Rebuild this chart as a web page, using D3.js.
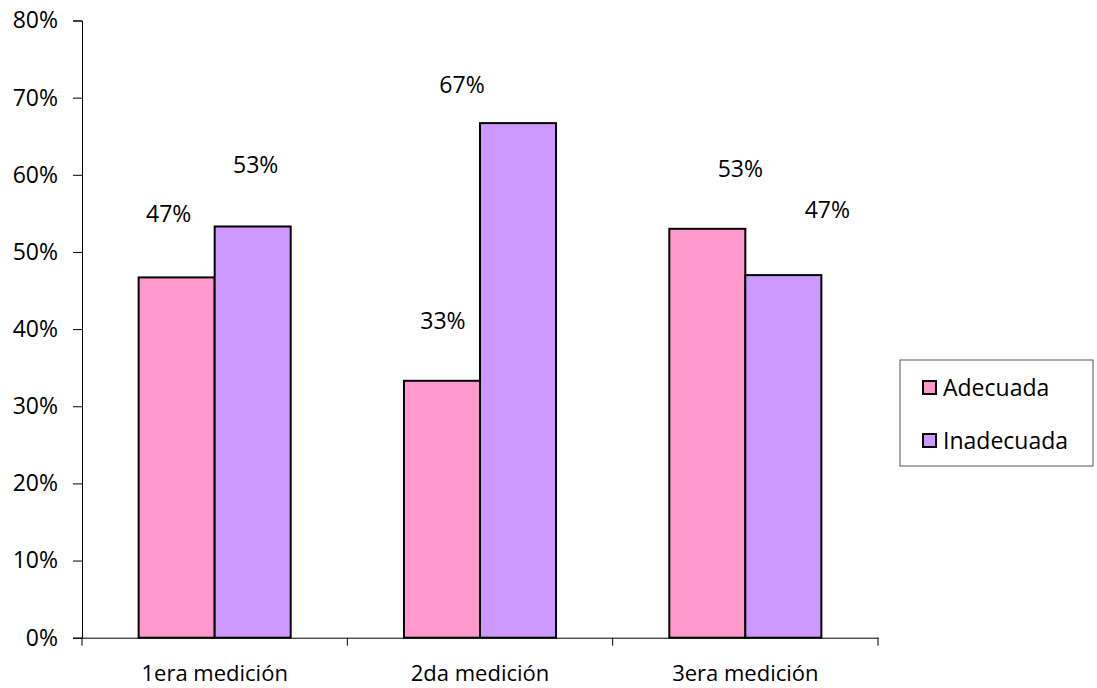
<!DOCTYPE html>
<html>
<head>
<meta charset="utf-8">
<script src="https://cdn.jsdelivr.net/npm/d3@7"></script>
<style>
  body { margin: 0; background: #fff; }
  text { font-family: "Open Sans", sans-serif; fill: #000; }
</style>
</head>
<body>
<script>
var categories = ["1era medición", "2da medición", "3era medición"];
var seriesNames = ["Adecuada", "Inadecuada"];
var adecuada = [0.467, 0.333, 0.53];
var inadecuada = [0.533, 0.667, 0.47];
var valueLabels = [["47%", "53%"], ["33%", "67%"], ["53%", "47%"]];
var yTicks = [0, 0.1, 0.2, 0.3, 0.4, 0.5, 0.6, 0.7, 0.8];

// label nudges (the labels were dragged by hand in the original)
var labelShift = [[[-8, -55], [3, -53]], [[1, -52], [-56, -30]], [[33, -52], [44, -57]]];

const colors = ["#ff99cc", "#cc99ff"];

var width = 1097,
    height = 688;

const margin = {top: 20.5, right: 219, bottom: 50, left: 82};

var fontSize = "23px";

var svg = d3.select("body")
    .append("svg")
    .attr("width", width)
    .attr("height", height);

var x0 = d3.scaleBand()
    .domain(categories)
    .range([margin.left, width - margin.right])
    .paddingInner(0)
    .paddingOuter(0);

var x1 = d3.scaleBand()
    .domain(seriesNames)
    .range([0, x0.bandwidth()])
    .paddingInner(0)
    .paddingOuter(0.745);

var y = d3.scaleLinear()
    .domain([0, 0.8])
    .range([637.7, margin.top]);

// y axis
var yAxis = svg.append("g")
    .attr("transform", "translate(" + margin.left + ",0)")
    .call(d3.axisLeft(y).tickValues(yTicks).tickFormat(d3.format(".0%")).tickSize(9).tickPadding(15));
yAxis.select(".domain").attr("stroke", "#000");
yAxis.selectAll(".tick line").attr("stroke", "#000");
yAxis.selectAll(".tick text")
    .attr("font-size", fontSize)
    .attr("font-family", "Open Sans")
    .attr("fill", "#000");

// bars
var data = categories.map(function (c, i) {
    return {cat: c, vals: [adecuada[i], inadecuada[i]], i: i};
});

var groups = svg.selectAll(".grp")
    .data(data)
    .enter().append("g")
    .attr("class", "grp")
    .attr("transform", function (d) { return "translate(" + x0(d.cat) + ",0)"; });

groups.selectAll("rect")
    .data(function (d) { return d.vals.map(function (v, j) { return {v: v, s: seriesNames[j], j: j}; }); })
    .enter().append("rect")
    .attr("x", function (d) { return x1(d.s); })
    .attr("y", function (d) { return y(d.v); })
    .attr("width", x1.bandwidth())
    .attr("height", function (d) { return y(0) - y(d.v); })
    .attr("fill", function (d) { return colors[d.j]; })
    .attr("stroke", "#000")
    .attr("stroke-width", 2);

groups.selectAll(".lbl")
    .data(function (d) { return d.vals.map(function (v, j) { return {v: v, s: seriesNames[j], j: j, i: d.i}; }); })
    .enter().append("text")
    .attr("class", "lbl")
    .attr("x", function (d) { return x1(d.s) + x1.bandwidth() / 2 + labelShift[d.i][d.j][0]; })
    .attr("y", function (d) { return y(d.v) + labelShift[d.i][d.j][1]; })
    .attr("text-anchor", "middle")
    .attr("font-size", fontSize)
    .text(function (d) { return valueLabels[d.i][d.j]; });

// x axis
var xAxis = svg.append("g")
    .attr("transform", "translate(0," + y(0) + ")")
    .call(d3.axisBottom(x0).tickSize(0).tickPadding(28).tickSizeOuter(0));
xAxis.select(".domain").attr("stroke", "#000");
xAxis.selectAll(".tick text")
    .attr("font-size", "22px")
    .attr("font-family", "Open Sans")
    .attr("fill", "#000");

var edges = categories.map(function (c) { return x0(c); }).concat([width - margin.right]);
xAxis.selectAll(".sep")
    .data(edges)
    .enter().append("line")
    .attr("class", "sep")
    .attr("x1", function (d) { return d; })
    .attr("x2", function (d) { return d; })
    .attr("y1", 0)
    .attr("y2", 8)
    .attr("stroke", "#000");

// legend
var legend = svg.append("g")
    .attr("transform", "translate(900,360)");

legend.append("rect")
    .attr("x", 0)
    .attr("y", 0)
    .attr("width", 193)
    .attr("height", 106)
    .attr("fill", "#fff")
    .attr("stroke", "#555");

seriesNames.forEach(function (name, j) {
    legend.append("rect")
        .attr("x", 23)
        .attr("y", 21 + j * 53)
        .attr("width", 13)
        .attr("height", 13)
        .attr("fill", colors[j])
        .attr("stroke", "#000")
        .attr("stroke-width", 2);
    legend.append("text")
        .attr("x", 43)
        .attr("y", 36 + j * 53)
        .attr("font-size", fontSize)
        .text(name);
});
</script>
</body>
</html>
